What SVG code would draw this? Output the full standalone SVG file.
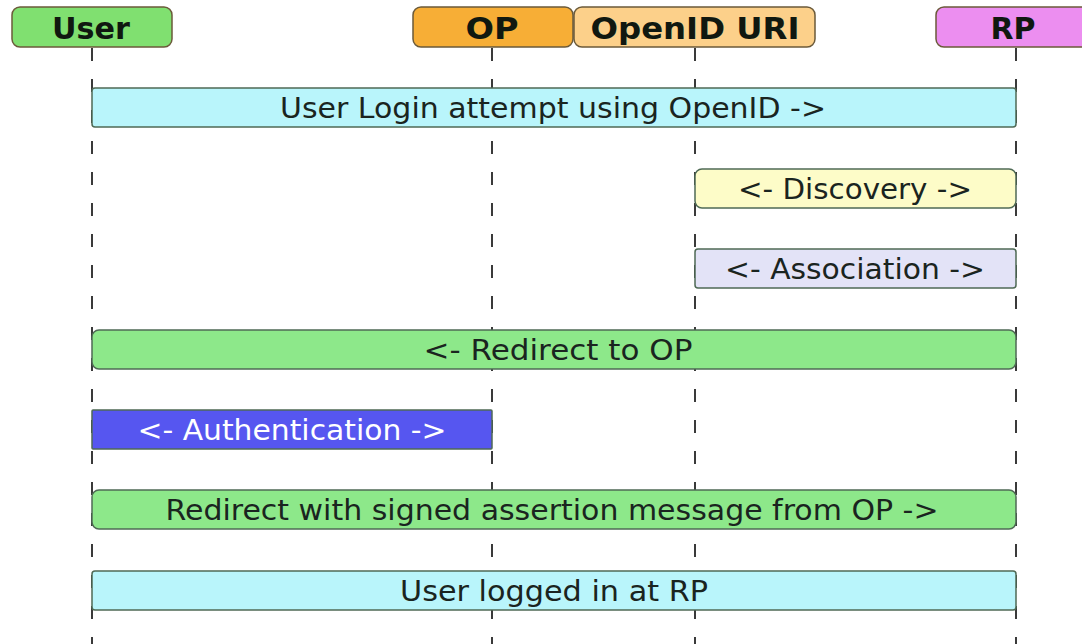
<svg xmlns="http://www.w3.org/2000/svg" width="1082" height="644" viewBox="0 0 1082 644">
  <style>
    .head { stroke: #6b5a3a; stroke-width: 1.5; }
    .bar { stroke: #4f6a55; stroke-width: 1.5; }
    .life { stroke: #3a3a3a; stroke-width: 2; stroke-dasharray: 13 18; fill: none; }
    .ht { font-family: "DejaVu Sans", "Liberation Sans", sans-serif; font-weight: bold; font-size: 30px; fill: #101810; text-anchor: middle; }
    .mt { font-family: "DejaVu Sans", "Liberation Sans", sans-serif; font-size: 29px; fill: #1a2420; text-anchor: middle; }
  </style>
  <rect width="1082" height="644" fill="#ffffff"/>

  <!-- lifelines -->
  <g id="connectors">
    <line class="life" x1="92" y1="48" x2="92" y2="644"/>
    <line class="life" x1="492" y1="48" x2="492" y2="644"/>
    <line class="life" x1="695" y1="48" x2="695" y2="644"/>
    <line class="life" x1="1016" y1="48" x2="1016" y2="644"/>
  </g>

  <!-- participants -->
  <g id="user">
    <rect class="head" x="12" y="7" width="160" height="40" rx="8" fill="#80e070"/>
    <text class="ht" x="91" y="39" textLength="78" lengthAdjust="spacingAndGlyphs">User</text>
  </g>
  <g id="op">
    <rect class="head" x="413" y="7" width="160" height="40" rx="8" fill="#f7ae36"/>
    <text class="ht" x="492" y="39" textLength="53" lengthAdjust="spacingAndGlyphs">OP</text>
  </g>
  <g id="openid-uri">
    <rect class="head" x="574" y="7" width="241" height="40" rx="8" fill="#fcd08a"/>
    <text class="ht" x="695" y="39" textLength="209" lengthAdjust="spacingAndGlyphs">OpenID URI</text>
  </g>
  <g id="rp">
    <rect class="head" x="936" y="7" width="160" height="40" rx="8" fill="#ec8ef0"/>
    <text class="ht" x="1013" y="39" textLength="45" lengthAdjust="spacingAndGlyphs">RP</text>
  </g>

  <!-- messages -->
  <g id="login-attempt">
    <rect class="bar" x="92" y="88" width="924" height="39" rx="3" fill="#b9f5fb"/>
    <text class="mt" x="553" y="118" textLength="546" lengthAdjust="spacingAndGlyphs">User Login attempt using OpenID -&gt;</text>
  </g>
  <g id="discovery">
    <rect class="bar" x="695" y="169" width="321" height="39" rx="7" fill="#fdfcc8"/>
    <text class="mt" x="855" y="199" textLength="234" lengthAdjust="spacingAndGlyphs">&lt;- Discovery -&gt;</text>
  </g>
  <g id="association">
    <rect class="bar" x="695" y="249" width="321" height="39" rx="3" fill="#e3e3f7"/>
    <text class="mt" x="855" y="279" textLength="260" lengthAdjust="spacingAndGlyphs">&lt;- Association -&gt;</text>
  </g>
  <g id="redirect-op">
    <rect class="bar" x="92" y="330" width="924" height="39" rx="7" fill="#8de88a"/>
    <text class="mt" x="558" y="360" textLength="269" lengthAdjust="spacingAndGlyphs">&lt;- Redirect to OP</text>
  </g>
  <g id="authentication">
    <rect class="bar" x="92" y="410" width="400" height="39" rx="1" fill="#5656f0" stroke="#3a3a90"/>
    <text class="mt" x="292" y="440" style="fill:#ffffff" textLength="309" lengthAdjust="spacingAndGlyphs">&lt;- Authentication -&gt;</text>
  </g>
  <g id="signed-assertion">
    <rect class="bar" x="92" y="490" width="924" height="39" rx="7" fill="#8de88a"/>
    <text class="mt" x="552" y="520" textLength="773" lengthAdjust="spacingAndGlyphs">Redirect with signed assertion message from OP -&gt;</text>
  </g>
  <g id="logged-in">
    <rect class="bar" x="92" y="571" width="924" height="39" rx="3" fill="#b9f5fb"/>
    <text class="mt" x="554" y="601" textLength="308" lengthAdjust="spacingAndGlyphs">User logged in at RP</text>
  </g>
</svg>
